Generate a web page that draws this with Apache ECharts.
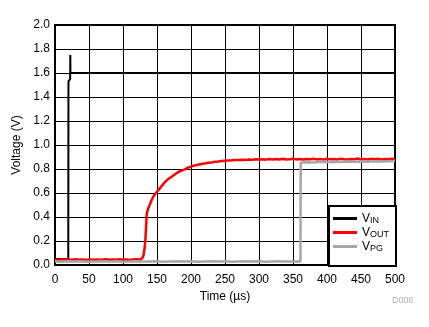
<!DOCTYPE html>
<html><head><meta charset="utf-8">
<script src="https://cdn.jsdelivr.net/npm/echarts@6/dist/echarts.min.js"></script>
<style>html,body{margin:0;padding:0;background:#fff}#c{width:429px;height:327px}</style>
</head><body><div id="c"></div>
<script>
// ---- data ----
const xTicks = [0,50,100,150,200,250,300,350,400,450,500];
const yTicks = [0,0.2,0.4,0.6,0.8,1.0,1.2,1.4,1.6,1.8,2.0];
const seriesNames = ['VIN','VOUT','VPG'];
const seriesSubs = ['IN','OUT','PG'];

const vinT = [0, 19.5, 19.8, 22.3, 22.5, 22.7, 500];
const vinV = [0.05, 0.05, 1.53, 1.55, 1.75, 1.60, 1.60];

const voutT = [0,5,10,15,20,25,30,35,40,45,50,55,60,65,70,75,80,85,90,95,100,105,110,115,120,125,
  128,130,132,133,134,135,137,140,142,145,150,155,160,165,170,175,180,185,190,195,200,205,210,215,220,225,230,235,240,245,250,255,260,265,270,275,280,285,290,295,300,
  305,310,315,320,325,330,335,340,345,350,355,360,365,370,375,380,385,390,395,400,405,410,415,420,425,430,435,440,445,450,455,460,465,470,475,480,485,490,495,500];
const voutV = [0.045,0.042,0.047,0.044,0.046,0.043,0.048,0.044,0.045,0.042,0.047,0.044,0.046,0.043,0.045,0.048,0.044,0.046,0.043,0.047,0.044,0.046,0.042,0.045,0.047,0.046,
  0.055,0.075,0.15,0.22,0.33,0.43,0.47,0.51,0.54,0.575,0.61,0.645,0.68,0.71,0.73,0.75,0.77,0.785,0.795,0.81,0.82,0.83,0.835,0.842,0.845,0.852,0.855,0.86,0.862,0.866,0.868,0.87,0.872,0.875,0.874,0.878,0.876,0.88,0.877,0.881,0.879,
  0.882,0.878,0.883,0.879,0.884,0.88,0.885,0.879,0.882,0.886,0.88,0.883,0.879,0.884,0.881,0.886,0.88,0.883,0.878,0.885,0.881,0.884,0.88,0.886,0.882,0.879,0.884,0.881,0.887,0.88,0.883,0.879,0.885,0.882,0.886,0.88,0.884,0.881,0.885,0.883];

const vpgT = [0,10,20,30,40,50,60,70,80,90,100,110,120,130,140,150,160,170,180,190,200,210,220,230,240,250,260,270,280,290,300,310,320,330,340,350,361,361.3,
  370,380,390,400,410,420,430,440,450,460,470,480,490,500];
const vpgV = [0.03,0.028,0.032,0.029,0.031,0.028,0.03,0.032,0.029,0.031,0.028,0.03,0.032,0.029,0.03,0.031,0.028,0.03,0.032,0.029,0.031,0.028,0.03,0.032,0.029,0.031,0.028,0.03,0.032,0.029,0.031,0.028,0.03,0.032,0.029,0.03,0.03,0.855,
  0.857,0.855,0.86,0.858,0.861,0.859,0.862,0.86,0.863,0.861,0.864,0.862,0.865,0.866];

const zip = (t, v) => t.map((x, i) => [x, v[i]]);
const colors = ['#000000', '#ff0000', '#a6a6a6'];

const chart = echarts.init(document.getElementById('c'), null, {renderer: 'canvas'});
const FONT = 'Liberation Sans, Arial, sans-serif';
chart.setOption({
  animation: false,
  backgroundColor: '#fff',
  grid: {left: 55, right: 34, top: 25, bottom: 62, show: true, borderColor: '#000', borderWidth: 2, backgroundColor: 'transparent'},
  xAxis: {
    type: 'value', min: xTicks[0], max: xTicks[xTicks.length-1], interval: 50,
    name: 'Time (µs)', nameLocation: 'middle', nameGap: 24,
    nameTextStyle: {fontFamily: FONT, fontSize: 12, color: '#000'},
    axisLine: {show: true, lineStyle: {color: '#000', width: 2}},
    axisTick: {show: false},
    axisLabel: {fontFamily: FONT, fontSize: 12, color: '#000', margin: 9},
    splitLine: {show: true, lineStyle: {color: '#000', width: 1}}
  },
  yAxis: {
    type: 'value', min: yTicks[0], max: yTicks[yTicks.length-1], interval: 0.2,
    name: 'Voltage (V)', nameLocation: 'middle', nameGap: 32, nameRotate: 90,
    nameTextStyle: {fontFamily: FONT, fontSize: 12, color: '#000'},
    axisLine: {show: true, lineStyle: {color: '#000', width: 2}},
    axisTick: {show: false},
    axisLabel: {fontFamily: FONT, fontSize: 12, color: '#000', margin: 5, formatter: v => v.toFixed(1)},
    splitLine: {show: true, lineStyle: {color: '#000', width: 1}}
  },
  graphic: [
    {type: 'rect', left: 328, top: 205, shape: {width: 67, height: 60}, style: {fill: '#fff', stroke: '#000', lineWidth: 2}, z: 50},
    {type: 'text', left: 392, top: 296, style: {text: 'D006', fill: '#b0b0b0', font: '9px ' + FONT}, z: 50}
  ],
  legend: {
    orient: 'vertical', left: 333, top: 212, z: 60,
    padding: 0, itemGap: 1, itemWidth: 24, itemHeight: 3, icon: 'rect',
    data: seriesNames,
    formatter: name => '{v|V}{s|' + seriesSubs[seriesNames.indexOf(name)] + '}',
    textStyle: {
      color: '#000', fontFamily: FONT,
      rich: {
        v: {fontSize: 12, fontFamily: FONT, lineHeight: 14, color: '#000'},
        s: {fontSize: 9, fontFamily: FONT, padding: [4, 0, 0, 0], lineHeight: 10, color: '#000'}
      }
    }
  },
  series: [
    {name: 'VIN', type: 'line', data: zip(vinT, vinV), showSymbol: false, symbol: 'none', lineStyle: {color: colors[0], width: 2}, itemStyle: {color: colors[0]}, z: 3},
    {name: 'VOUT', type: 'line', data: zip(voutT, voutV), showSymbol: false, symbol: 'none', lineStyle: {color: colors[1], width: 2.5}, itemStyle: {color: colors[1]}, z: 4},
    {name: 'VPG', type: 'line', data: zip(vpgT, vpgV), showSymbol: false, symbol: 'none', lineStyle: {color: colors[2], width: 2.5}, itemStyle: {color: colors[2]}, z: 5}
  ]
});
</script></body></html>
